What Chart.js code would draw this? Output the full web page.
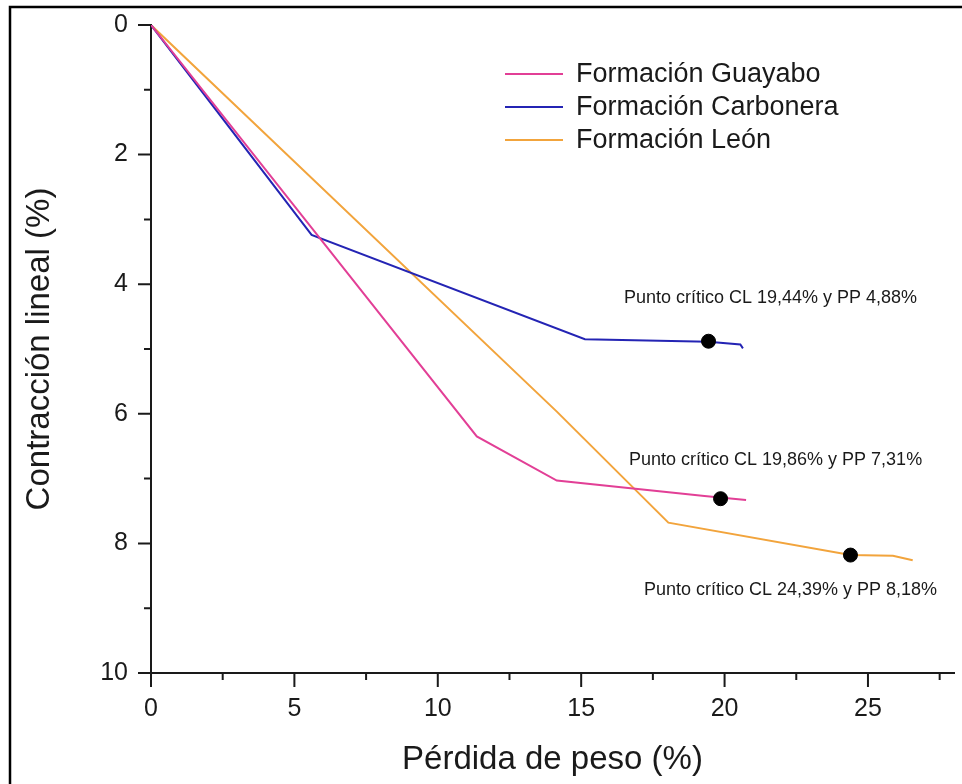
<!DOCTYPE html>
<html>
<head>
<meta charset="utf-8">
<script src="https://cdn.jsdelivr.net/npm/chart.js@4.4.1/dist/chart.umd.min.js"></script>
<style>
  html, body { margin: 0; padding: 0; background: #fff; }
  #wrap { position: relative; width: 962px; height: 784px; }
</style>
</head>
<body>
<div id="wrap"><canvas id="grafico" width="962" height="784"></canvas></div>
<script>
// curvas de contracción lineal vs pérdida de peso ##########################

var guayaboX   = [0, 11.36, 14.15, 19.3, 20.75];
var guayaboY   = [0, 6.35, 7.03, 7.27, 7.33];
var carboneraX = [0, 5.6, 15.13, 19.44, 20.55, 20.64];
var carboneraY = [0, 3.24, 4.85, 4.89, 4.93, 4.99];
var leonX      = [0, 14.16, 18.04, 24.39, 25.87, 26.56];
var leonY      = [0, 5.97, 7.68, 8.18, 8.19, 8.26];

var nombres = ['Formación Guayabo', 'Formación Carbonera', 'Formación León'];

// puntos críticos
var criticoX = [19.44, 19.86, 24.39];
var criticoY = [4.88, 7.31, 8.18];
var criticoTexto = [
  'Punto crítico CL 19,44% y PP 4,88%',
  'Punto crítico CL 19,86% y PP 7,31%',
  'Punto crítico CL 24,39% y PP 8,18%'
];

var xTicks = [0, 5, 10, 15, 20, 25];
var xMenores = [2.5, 7.5, 12.5, 17.5, 22.5, 27.5];
var yTicks = [0, 2, 4, 6, 8, 10];
var yMenores = [1, 3, 5, 7, 9];

var colores = ['#e23f96', '#2424b4', '#f2a43c'];
var fuente = '"Liberation Sans", Arial, sans-serif';

function puntos(xs, ys) {
  return xs.map(function(x, i){ return {x: x, y: ys[i]}; });
}

function serie(i, xs, ys) {
  return {
    label: nombres[i],
    data: puntos(xs, ys),
    showLine: true,
    borderColor: colores[i],
    backgroundColor: colores[i],
    borderWidth: 2,
    pointRadius: 0,
    tension: 0,
    order: 1
  };
}

// marcas de ejes, leyenda, textos y marco
var extras = {
  id: 'extras',
  afterDraw: function(chart) {
    var ctx = chart.ctx;
    var sx = chart.scales.x, sy = chart.scales.y;
    var a = chart.chartArea;
    ctx.save();

    ctx.strokeStyle = '#1a1a1a';
    ctx.lineWidth = 2;
    ctx.beginPath();
    xTicks.forEach(function(v){ var p = sx.getPixelForValue(v); ctx.moveTo(p, a.bottom); ctx.lineTo(p, a.bottom + 14); });
    xMenores.forEach(function(v){ var p = sx.getPixelForValue(v); ctx.moveTo(p, a.bottom); ctx.lineTo(p, a.bottom + 7); });
    yTicks.forEach(function(v){ var p = sy.getPixelForValue(v); ctx.moveTo(a.left, p); ctx.lineTo(a.left - 13, p); });
    yMenores.forEach(function(v){ var p = sy.getPixelForValue(v); ctx.moveTo(a.left, p); ctx.lineTo(a.left - 7, p); });
    ctx.stroke();

    // marco exterior
    ctx.lineWidth = 2.5;
    ctx.strokeStyle = '#000';
    ctx.beginPath();
    ctx.moveTo(10, 784);
    ctx.lineTo(10, 7);
    ctx.lineTo(962, 7);
    ctx.stroke();

    // leyenda
    ctx.font = '27px ' + fuente;
    ctx.textBaseline = 'middle';
    ctx.textAlign = 'left';
    nombres.forEach(function(n, i){
      var y = 74 + i * 33;
      ctx.strokeStyle = colores[i];
      ctx.lineWidth = 2;
      ctx.beginPath();
      ctx.moveTo(505, y);
      ctx.lineTo(563, y);
      ctx.stroke();
      ctx.fillStyle = '#1a1a1a';
      ctx.fillText(n, 576, y + 1);
    });

    // textos de puntos críticos
    var desplaza = [[62, -43], [55, -39], [-60, 35]];
    ctx.font = '18px ' + fuente;
    ctx.textAlign = 'center';
    ctx.fillStyle = '#1a1a1a';
    criticoTexto.forEach(function(t, i){
      var px = sx.getPixelForValue(criticoX[i]);
      var py = sy.getPixelForValue(criticoY[i]);
      ctx.fillText(t, px + desplaza[i][0], py + desplaza[i][1]);
    });
    ctx.restore();
  }
};

var ctx = document.getElementById('grafico').getContext('2d');
var grafico = new Chart(ctx, {
  type: 'scatter',
  data: {
    datasets: [
      serie(0, guayaboX, guayaboY),
      serie(1, carboneraX, carboneraY),
      serie(2, leonX, leonY),
      {
        label: 'Puntos críticos',
        data: puntos(criticoX, criticoY),
        pointRadius: 7,
        pointBackgroundColor: '#000',
        pointBorderColor: '#000',
        showLine: false,
        order: 0
      }
    ]
  },
  options: {
    responsive: false,
    animation: false,
    layout: { padding: { left: 0, right: 8, top: 25, bottom: 0 } },
    plugins: { legend: { display: false }, tooltip: { enabled: false } },
    scales: {
      x: {
        type: 'linear',
        min: 0,
        max: 28,
        afterBuildTicks: function(s){ s.ticks = xTicks.map(function(v){ return {value: v}; }); },
        afterFit: function(s){ s.height = 111; s.paddingLeft = 0; s.paddingRight = 0; },
        grid: { display: false },
        border: { display: true, color: '#1a1a1a', width: 2 },
        ticks: { color: '#1a1a1a', font: { size: 25, family: fuente }, padding: 13, maxRotation: 0 },
        title: { display: true, text: 'Pérdida de peso (%)', color: '#1a1a1a', font: { size: 33, family: fuente }, padding: { bottom: 4 } }
      },
      y: {
        type: 'linear',
        reverse: true,
        min: 0,
        max: 10,
        afterBuildTicks: function(s){ s.ticks = yTicks.map(function(v){ return {value: v}; }); },
        afterFit: function(s){ s.width = 151; s.paddingTop = 0; s.paddingBottom = 0; },
        grid: { display: false },
        border: { display: true, color: '#1a1a1a', width: 2 },
        ticks: { color: '#1a1a1a', font: { size: 25, family: fuente }, padding: 15 },
        title: { display: true, text: 'Contracción lineal (%)', color: '#1a1a1a', font: { size: 33, family: fuente }, padding: { top: 20 } }
      }
    }
  },
  plugins: [extras]
});
</script>
</body>
</html>
